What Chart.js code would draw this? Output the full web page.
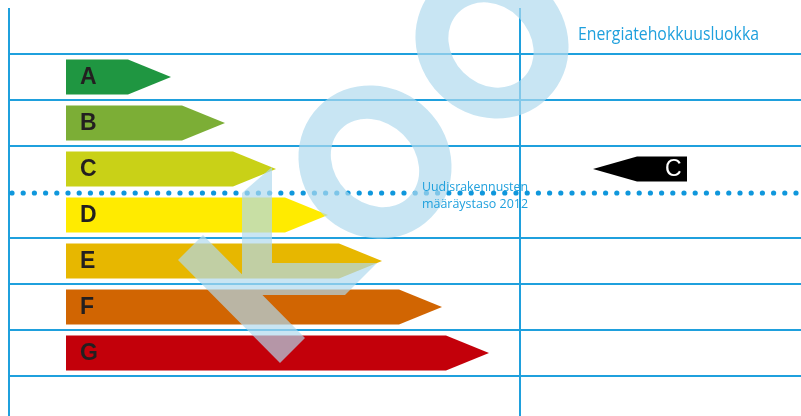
<!DOCTYPE html>
<html>
<head>
<meta charset="utf-8">
<script src="https://cdn.jsdelivr.net/npm/chart.js@4.4.1/dist/chart.umd.min.js"></script>
<style>
  html, body { margin: 0; padding: 0; background: #ffffff; overflow: hidden; }
  #wrap { width: 801px; height: 430px; position: relative; }
</style>
</head>
<body>
<div id="wrap"><canvas id="c" width="801" height="430"></canvas></div>
<script>
// ---- data ----
const classes = ['A', 'B', 'C', 'D', 'E', 'F', 'G'];
const arrowStart = 57;                                   // common start of every class arrow
const arrowEnd = [162, 216, 267, 319, 373, 433, 480];    // arrow tip for each class
const classColors = ['#1f9641', '#7cae36', '#c9d117', '#ffeb00', '#e7b700', '#d16502', '#c3000a'];
const buildingClass = 'C';                               // class of this building
const referenceAfter = 'C';                              // 2012 level sits between C and D
const titleText = 'Energiatehokkuusluokka';
const referenceText = ['Uudisrakennusten', 'määräystaso 2012'];
const dividerValue = 511;                                // vertical divider position on x scale

// labels padded with an empty row above and below
const rowLabels = [''].concat(classes, ['']);
const rowData = [null].concat(classes.map((c, i) => [arrowStart, arrowEnd[i]]), [null]);
const rowColors = ['transparent'].concat(classColors, ['transparent']);

const BLUE = '#1fa0dd';
const DOT = '#0f97dc';

function fitText(ctx, text, x, y, size, width, fam) {
  ctx.font = size + 'px ' + fam;
  const w = ctx.measureText(text).width;
  ctx.save();
  ctx.translate(x, y);
  ctx.scale(width / w, 1);
  ctx.fillText(text, 0, 0);
  ctx.restore();
}

const arrowPlugin = {
  id: 'arrows',
  afterDatasetsDraw(chart) {
    const ctx = chart.ctx;
    const meta = chart.getDatasetMeta(0);
    meta.data.forEach((el, i) => {
      if (!rowData[i]) return;
      const p = el.getProps(['x', 'y', 'base', 'height'], true);
      const tip = 43, h = p.height / 2;
      ctx.save();
      ctx.fillStyle = rowColors[i];
      ctx.beginPath();
      ctx.moveTo(p.base, p.y - h);
      ctx.lineTo(p.x - tip, p.y - h);
      ctx.lineTo(p.x, p.y);
      ctx.lineTo(p.x - tip, p.y + h);
      ctx.lineTo(p.base, p.y + h);
      ctx.closePath();
      ctx.fill();
      ctx.fillStyle = '#231f20';
      ctx.font = 'bold 23px "Liberation Sans", Arial, sans-serif';
      ctx.textBaseline = 'middle';
      ctx.textAlign = 'left';
      ctx.fillText(rowLabels[i], p.base + 14, p.y + 1);
      ctx.restore();
    });
  },
  afterDraw(chart) {
    const ctx = chart.ctx;
    const ys = chart.scales.y;
    const idx = rowLabels.indexOf(referenceAfter);
    const yRef = (ys.getPixelForValue(idx) + ys.getPixelForValue(idx + 1)) / 2 + 1;

    // dotted reference line
    ctx.save();
    ctx.fillStyle = DOT;
    for (let x = 12; x < chart.width + 5; x += 11.2) {
      ctx.beginPath();
      ctx.arc(x, yRef, 2.6, 0, Math.PI * 2);
      ctx.fill();
    }
    ctx.restore();

    // light watermark shapes
    ctx.save();
    ctx.fillStyle = 'rgba(175,218,238,0.69)';
    ctx.beginPath();
    ctx.ellipse(375, 162, 79, 74, Math.PI / 4, 0, Math.PI * 2);
    ctx.ellipse(375, 163, 48, 40, Math.PI / 4, 0, Math.PI * 2);
    ctx.fill('evenodd');
    ctx.beginPath();
    ctx.ellipse(492, 42, 79, 74, Math.PI / 4, 0, Math.PI * 2);
    ctx.ellipse(491, 45, 46, 39, Math.PI / 4, 0, Math.PI * 2);
    ctx.fill('evenodd');
    ctx.beginPath();
    ctx.moveTo(242, 193); ctx.lineTo(272, 167); ctx.lineTo(272, 263);
    ctx.lineTo(377, 263); ctx.lineTo(345, 295); ctx.lineTo(242, 295); ctx.closePath();
    ctx.moveTo(203, 235); ctx.lineTo(305, 338); ctx.lineTo(280, 363); ctx.lineTo(178, 260); ctx.closePath();
    ctx.fill('nonzero');
    ctx.restore();

    // texts
    ctx.save();
    ctx.fillStyle = BLUE;
    ctx.textAlign = 'left';
    ctx.textBaseline = 'alphabetic';
    const fam = '"Open Sans", "Noto Sans", sans-serif';
    fitText(ctx, titleText, 578, 40, 17.5, 181, fam);
    fitText(ctx, referenceText[0], 422, yRef - 2, 13.5, 106, fam);
    fitText(ctx, referenceText[1], 422, yRef + 15, 13.5, 106, fam);
    ctx.restore();

    // building's class marker
    const yb = ys.getPixelForValue(rowLabels.indexOf(buildingClass));
    ctx.save();
    ctx.fillStyle = '#000000';
    ctx.beginPath();
    ctx.moveTo(593, yb);
    ctx.lineTo(637, yb - 12.5);
    ctx.lineTo(687, yb - 12.5);
    ctx.lineTo(687, yb + 12.5);
    ctx.lineTo(637, yb + 12.5);
    ctx.closePath();
    ctx.fill();
    ctx.fillStyle = '#ffffff';
    ctx.font = '23px "Liberation Sans", Arial, sans-serif';
    ctx.textBaseline = 'middle';
    ctx.fillText(buildingClass, 665, yb + 1);
    ctx.restore();
  }
};

new Chart(document.getElementById('c'), {
  type: 'bar',
  data: {
    labels: rowLabels,
    datasets: [{
      data: rowData,
      backgroundColor: 'transparent',
      borderWidth: 0,
      barThickness: 35
    }]
  },
  options: {
    indexAxis: 'y',
    responsive: false,
    animation: false,
    events: [],
    layout: { padding: { left: 9, right: 0, top: 8, bottom: 8 } },
    plugins: { legend: { display: false }, tooltip: { enabled: false } },
    scales: {
      x: {
        type: 'linear', min: 0, max: 792,
        ticks: { display: false },
        border: { display: false },
        grid: { drawTicks: false, color: BLUE, lineWidth: 2 },
        afterBuildTicks(scale) { scale.ticks = [{ value: 0 }, { value: dividerValue }]; }
      },
      y: {
        type: 'category', offset: true,
        ticks: { display: false },
        border: { display: false },
        grid: {
          offset: true, drawTicks: false, lineWidth: 2,
          color(c) {
            const i = c.index;
            if (i === 0 || i === rowLabels.indexOf(referenceAfter) + 1) return 'transparent';
            return BLUE;
          }
        }
      }
    }
  },
  plugins: [arrowPlugin]
});
</script>
</body>
</html>
